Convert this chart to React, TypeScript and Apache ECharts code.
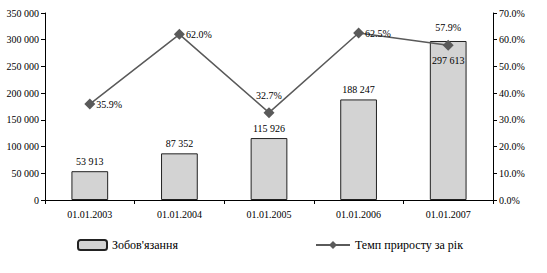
import React, { useEffect, useRef } from "react";
import * as echarts from "echarts";

const categories = ["01.01.2003", "01.01.2004", "01.01.2005", "01.01.2006", "01.01.2007"];
const liabilities = [53913, 87352, 115926, 188247, 297613];
const growthRate = [35.9, 62.0, 32.7, 62.5, 57.9];
const barLabelPositions = ["top", "top", "top", "top", "insideTop"];
const rateLabelPositions = ["right", "right", "top", "right", "top"];

const FONT =
  "'Liberation Serif', 'Nimbus Roman', 'Nimbus Roman No9 L', Tinos, Times, 'DejaVu Serif Condensed', 'DejaVu Serif', serif";

function fmtThousands(v: number): string {
  return String(Math.round(v)).replace(/\B(?=(\d{3})+(?!\d))/g, " ");
}

const txt = (size: number) => ({ fontFamily: FONT, fontSize: size, color: "#000" });

export default function App() {
  const ref = useRef<HTMLDivElement>(null);
  useEffect(() => {
    if (!ref.current) return;
    const chart = echarts.init(ref.current, undefined, { renderer: "svg" });
    chart.setOption({
      animation: false,
      backgroundColor: "#ffffff",
      textStyle: txt(10),
      grid: { left: 45, right: 54, top: 13, bottom: 73 },
      legend: [
        {
          data: ["Зобов'язання"],
          left: 72,
          top: 234,
          itemWidth: 29,
          itemHeight: 10,
          itemGap: 4,
          textStyle: txt(12),
        },
        {
          data: ["Темп приросту за рік"],
          left: 310,
          top: 234,
          itemWidth: 34,
          itemHeight: 10,
          textStyle: txt(12),
        },
      ],
      xAxis: {
        type: "category",
        data: categories,
        axisLine: { lineStyle: { color: "#000", width: 1 } },
        axisTick: { show: true, length: 4, lineStyle: { color: "#000" } },
        axisLabel: { ...txt(10), margin: 9 },
      },
      yAxis: [
        {
          type: "value",
          min: 0,
          max: 350000,
          interval: 50000,
          axisLine: { show: true, lineStyle: { color: "#000", width: 1 } },
          axisTick: { show: true, length: 4, lineStyle: { color: "#000" } },
          splitLine: { show: false },
          axisLabel: { ...txt(10), margin: 6, formatter: (v: number) => fmtThousands(v) },
        },
        {
          type: "value",
          min: 0,
          max: 70,
          interval: 10,
          position: "right",
          axisLine: { show: true, lineStyle: { color: "#000", width: 1 } },
          axisTick: { show: true, length: 4, lineStyle: { color: "#000" } },
          splitLine: { show: false },
          axisLabel: { ...txt(10), margin: 6, formatter: (v: number) => v.toFixed(1) + "%" },
        },
      ],
      series: [
        {
          name: "Зобов'язання",
          type: "bar",
          yAxisIndex: 0,
          barWidth: "41%",
          data: liabilities.map((v, i) => ({
            value: v,
            label: {
              show: true,
              ...txt(10),
              position: barLabelPositions[i],
              offset: barLabelPositions[i] === "insideTop" ? [0, 10] : [0, 0],
              formatter: fmtThousands(v),
            },
          })),
          itemStyle: { color: "#d3d3d3", borderColor: "#222", borderWidth: 1 },
        },
        {
          name: "Темп приросту за рік",
          type: "line",
          yAxisIndex: 1,
          data: growthRate.map((v, i) => ({
            value: v,
            label: {
              show: true,
              ...txt(10),
              position: rateLabelPositions[i],
              offset: rateLabelPositions[i] === "top" ? [0, -2] : [-4, 0],
              formatter: v.toFixed(1) + "%",
            },
          })),
          symbol: "diamond",
          symbolSize: 11,
          lineStyle: { color: "#5a5a5a", width: 1.5 },
          itemStyle: { color: "#5a5a5a" },
        },
      ],
    });
    return () => chart.dispose();
  }, []);
  return <div ref={ref} style={{ width: 547, height: 273, position: "absolute", left: 0, top: 0 }} />;
}
